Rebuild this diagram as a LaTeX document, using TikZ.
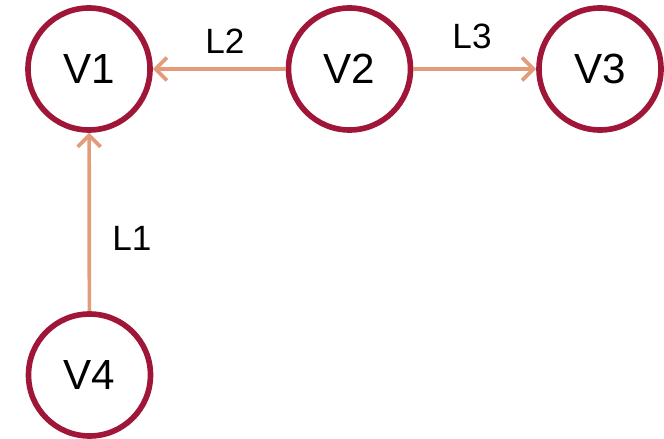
\documentclass[tikz,border=0pt]{standalone}
\usepackage{fontspec}
\setmainfont{Liberation Sans}
\usetikzlibrary{arrows.meta,positioning}

\definecolor{vred}{RGB}{160,22,56}
\definecolor{lsalmon}{RGB}{226,156,122}

\begin{document}
\begin{tikzpicture}[every node/.style={font=\fontsize{24}{27}\selectfont},
  vert/.style={circle,draw=vred,line width=3.2pt,minimum size=2.44cm,inner sep=0pt},
  link/.style={draw=lsalmon,line width=2.1pt,-{Straight Barb[length=6.5pt,width=13pt,line width=2.1pt]}},
  lbl/.style={font=\fontsize{20}{23}\selectfont}]
\useasboundingbox (0,0) rectangle (13.28,-8.78);
\node[vert] (V1) at (1.78,-1.38) {V1};
\node[vert] (V2) at (6.99,-1.38) {V2};
\node[vert] (V3) at (12.00,-1.38) {V3};
\node[vert] (V4) at (1.79,-7.50) {V4};
\draw[link] (V4)--(V1);
\draw[link] (V2)--(V1);
\draw[link] (V2)--(V3);
\node[lbl] (L1) at (2.64,-4.76) {L1};
\node[lbl] (L2) at (4.50,-0.82) {L2};
\node[lbl] (L3) at (9.44,-0.72) {L3};
\end{tikzpicture}
\end{document}
